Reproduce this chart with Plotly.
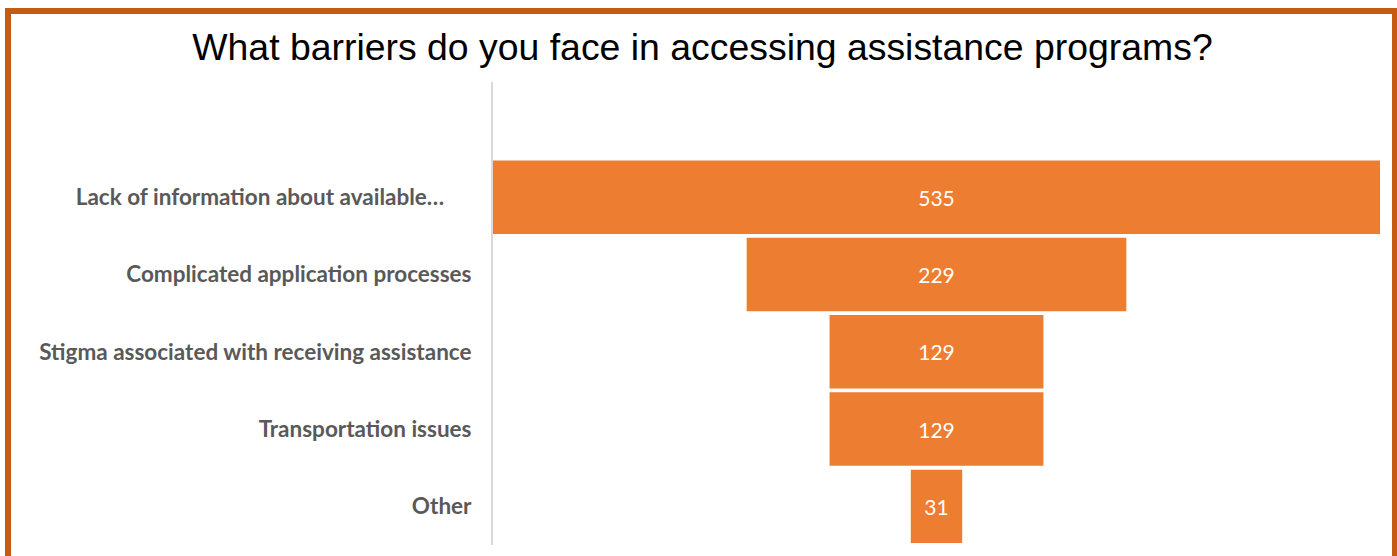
import plotly.graph_objects as go

categories = [
    "Lack of information about available…",
    "Complicated application processes",
    "Stigma associated with receiving assistance",
    "Transportation issues",
    "Other",
]
values = [535, 229, 129, 129, 31]
title_text = "What barriers do you face in accessing assistance programs?"

W, H = 1397, 556
L, R, T, B = 493, 17, 82, 11
pw = W - L - R
ph = H - T - B

def px_x(p):
    return (p - L) / pw

def px_y(p):
    return (H - B - p) / ph

# the first (truncated) label sits a little further left in the reference
label_pad = [5, 0, 0, 0, 0]
tick_text = [c + "\u00a0" * n for c, n in zip(categories, label_pad)]

fig = go.Figure(go.Funnel(
    y=categories,
    x=values,
    marker=dict(color="#ED7D31"),
    textinfo="value",
    textposition="inside",
    insidetextanchor="middle",
    textfont=dict(color="white", size=21, family="Lato"),
    connector=dict(visible=False),
    hoverinfo="x+y",
))

fig.update_layout(
    width=W, height=H,
    margin=dict(l=L, r=R, t=T, b=B),
    paper_bgcolor="white",
    plot_bgcolor="white",
    showlegend=False,
    funnelgap=0.05,
    title=dict(
        text=title_text,
        x=702.5 / W, xanchor="center",
        y=1 - 47 / H, yanchor="middle",
        font=dict(family="Liberation Sans", size=37.4, color="black"),
    ),
    xaxis=dict(
        range=[-values[0] / 2, values[0] / 2],
        visible=False,
    ),
    yaxis=dict(
        range=[4.5, -1.49],
        tickmode="array", tickvals=categories, ticktext=tick_text,
        showline=True, linecolor="#D9D9D9", linewidth=2,
        showgrid=False, zeroline=False,
        ticks="", ticklabelstandoff=15,
        tickfont=dict(family="Lato", size=22.5, color="#595959", weight="bold"),
    ),
    shapes=[dict(
        type="rect", xref="paper", yref="paper",
        x0=px_x(8), x1=px_x(1395), y0=px_y(620), y1=px_y(11),
        line=dict(color="#C55A11", width=6),
        fillcolor="rgba(0,0,0,0)",
        layer="above",
    )],
)

fig.write_html("out.html")
